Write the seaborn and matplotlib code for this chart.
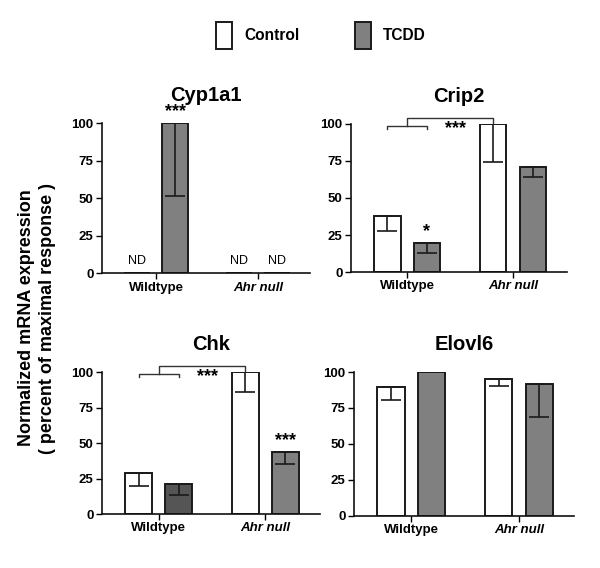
import matplotlib
matplotlib.use('Agg')
import matplotlib.pyplot as plt
from matplotlib.patches import Rectangle
import pandas as pd
import seaborn as sns

genotypes = ['Wildtype', 'Ahr null']
treatments = ['Control', 'TCDD']
genes = ['Cyp1a1', 'Crip2', 'Chk', 'Elovl6']

# bar order: WT control, WT TCDD, Ahr control, Ahr TCDD
means = {
    'Cyp1a1': [0, 100, 0, 0],
    'Crip2': [38, 19.5, 100, 71],
    'Chk': [29, 21.5, 100, 44],
    'Elovl6': [89.5, 100, 95.5, 92],
}
# lower error bar length (only drawn downwards)
errs = {
    'Cyp1a1': [0, 48.5, 0, 0],
    'Crip2': [10.5, 6.5, 25.5, 7],
    'Chk': [9, 8, 14, 8.5],
    'Elovl6': [9, 0, 5, 23.5],
}
# not detected bars
nd_bars = {'Cyp1a1': [0, 2, 3]}
# significance marks above single bars
star_bars = {'Cyp1a1': [(1, '***')], 'Crip2': [(1, '*')], 'Chk': [(3, '***')]}
# genes with the wildtype vs Ahr null bracket
bracket_genes = ['Crip2', 'Chk']

plt.rcParams['font.family'] = ['Liberation Sans', 'DejaVu Sans']
plt.rcParams['font.weight'] = 'bold'

fig = plt.figure(figsize=(6.0, 5.68), dpi=100)
positions = {
    'Cyp1a1': [0.170, 0.519, 0.347, 0.264],
    'Crip2': [0.585, 0.521, 0.360, 0.261],
    'Chk': [0.170, 0.095, 0.363, 0.250],
    'Elovl6': [0.590, 0.092, 0.367, 0.253],
}
palette = {'Control': 'white', 'TCDD': '#808080'}
edge = '#1a1a1a'

for gene in genes:
    ax = fig.add_axes(positions[gene])
    rows = []
    for i, val in enumerate(means[gene]):
        rows.append({'genotype': genotypes[i // 2], 'treatment': treatments[i % 2], 'value': val})
    df = pd.DataFrame(rows)
    sns.barplot(data=df, x='genotype', y='value', hue='treatment', order=genotypes,
                hue_order=treatments, palette=palette, width=0.75, gap=0.33,
                errorbar=None, edgecolor=edge, linewidth=1.4, legend=False, ax=ax)

    # collect bars in the data order
    bars = []
    for g in range(2):
        for t in range(2):
            bars.append(ax.containers[t][g])
    if gene == 'Chk':
        bars[1].set_facecolor('#555555')

    centers = [b.get_x() + b.get_width() / 2 for b in bars]
    for i, b in enumerate(bars):
        if errs[gene][i] > 0:
            ax.errorbar(centers[i], means[gene][i], yerr=[[errs[gene][i]], [0]],
                        fmt='none', ecolor=edge, elinewidth=1.2, capsize=7, capthick=1.2)

    for i in nd_bars.get(gene, []):
        ax.text(centers[i], 4, 'ND', ha='center', va='bottom', fontsize=9, fontweight='normal')

    for i, s in star_bars.get(gene, []):
        ax.text(centers[i], means[gene][i] + 2, s, ha='center', va='bottom', fontsize=13,
                fontweight='bold', clip_on=False)

    if gene in bracket_genes:
        kw = dict(color='#333333', lw=1.0, clip_on=False)
        ax.plot([centers[0], centers[0], centers[1], centers[1]], [96.3, 98.6, 98.6, 96.3], **kw)
        ax.plot([0, 0, centers[2], centers[2]], [98.6, 104, 104, 100.5], **kw)
        ax.text(0.46, 97, '***', ha='center', va='center', fontsize=13, fontweight='bold',
                clip_on=False)

    ax.set_xlim(-0.53, 1.51)
    ax.set_ylim(0, 100)
    ax.set_yticks([0, 25, 50, 75, 100])
    ax.set_xticks([0, 1])
    ax.set_xticklabels(genotypes)
    ax.get_xticklabels()[1].set_style('italic')
    ax.tick_params(axis='both', labelsize=9.5, length=4, width=1, direction='out', pad=2)
    for lab in ax.get_xticklabels() + ax.get_yticklabels():
        lab.set_fontweight('bold')
    ax.set_xlabel('')
    ax.set_ylabel('')
    ax.set_title(gene, fontsize=14.5, fontweight='bold', pad=16)
    sns.despine(ax=ax)
    for sp in ['left', 'bottom']:
        ax.spines[sp].set_linewidth(1.2)
        ax.spines[sp].set_color('#111111')

fig.text(0.062, 0.44, 'Normalized mRNA expression\n( percent of maximal response )',
         rotation=90, ha='center', va='center', fontsize=13, fontweight='bold',
         linespacing=1.35)

handles = [Rectangle((0, 0), 1, 1, facecolor=palette[t], edgecolor=edge, linewidth=1.4)
           for t in treatments]
fig.legend(handles, treatments, loc='center', bbox_to_anchor=(0.535, 0.938), ncol=2,
           frameon=False, handlelength=1.03, handleheight=2.3, handletextpad=0.77,
           columnspacing=3.6, prop={'size': 11.2, 'weight': 'bold'})

fig.savefig('out.png', dpi=100)
